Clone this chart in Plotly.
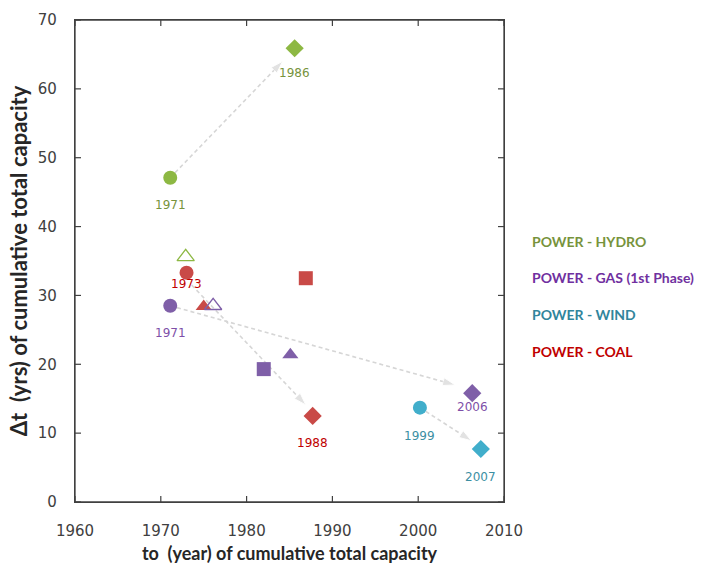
import plotly.graph_objects as go

# ---------------- data ----------------
hydro_x = [1971.1, 1985.6]
hydro_y = [47.1, 65.9]
hydro_sym = ["circle", "diamond"]
hydro_open_x = [1972.9]
hydro_open_y = [35.6]

gas_x = [1971.1, 1982.0, 1985.1, 2006.3]
gas_y = [28.5, 19.3, 21.4, 15.8]
gas_sym = ["circle", "square", "triangle-up", "diamond"]
gas_open_x = [1976.1]
gas_open_y = [28.5]

wind_x = [2000.2, 2007.3]
wind_y = [13.7, 7.7]
wind_sym = ["circle", "diamond"]

coal_x = [1973.0, 1975.0, 1986.9, 1987.7]
coal_y = [33.3, 28.4, 32.5, 12.5]
coal_sym = ["circle", "triangle-up", "square", "diamond"]

# year labels: (x, y, text, colour-key, shift)
labels = [
    (hydro_x[0], hydro_y[0], "1971", "hydro", -27),
    (hydro_x[1], hydro_y[1], "1986", "hydro", -25),
    (gas_x[0], gas_y[0], "1971", "gas", -27),
    (gas_x[3], gas_y[3], "2006", "gas", -14),
    (wind_x[0], wind_y[0], "1999", "wind", -28),
    (wind_x[1], wind_y[1], "2007", "wind", -28),
    (coal_x[0], coal_y[0], "1973", "coal", -11),
    (coal_x[3], coal_y[3], "1988", "coal", -27),
]

# arrows: (start x, start y, end x, end y)
arrows = [
    (1971.1, 47.1, 1984.2, 64.0),
    (1971.1, 28.5, 2004.3, 17.0),
    (1973.6, 31.5, 1986.9, 14.1),
    (2000.2, 13.7, 2006.2, 8.9),
]

legend_names = ["POWER - HYDRO", "POWER - GAS (1st Phase)", "POWER - WIND", "POWER - COAL"]

x_ticks = [1960, 1970, 1980, 1990, 2000, 2010]
y_ticks = [0, 10, 20, 30, 40, 50, 60, 70]

# ---------------- style ----------------
marker_col = {"hydro": "#8DB843", "gas": "#7F5FA8", "wind": "#41AECB", "coal": "#C94A47"}
text_col = {"hydro": "#77933C", "gas": "#7E4FA8", "wind": "#3C8FA3", "coal": "#C00000"}
legend_col = ["#77933C", "#7030A0", "#31859C", "#C00000"]
arrow_col = "#D6D6D6"
axis_line = "#404040"

fig = go.Figure()

for (x0, y0, x1, y1) in arrows:
    fig.add_trace(go.Scatter(
        x=[x0, x1], y=[y0, y1], mode="lines+markers",
        line=dict(color=arrow_col, width=1.6, dash="4px,3px"),
        marker=dict(symbol="arrow", size=[0, 13], angleref="previous", color=arrow_col),
        showlegend=False, hoverinfo="skip"))

def add_series(xs, ys, syms, key, name):
    fig.add_trace(go.Scatter(
        x=xs, y=ys, mode="markers", name=name,
        marker=dict(symbol=syms, size=14, color=marker_col[key], line=dict(width=0)),
        showlegend=False))

add_series(hydro_x, hydro_y, hydro_sym, "hydro", legend_names[0])
add_series(gas_x, gas_y, gas_sym, "gas", legend_names[1])
add_series(wind_x, wind_y, wind_sym, "wind", legend_names[2])
add_series(coal_x, coal_y, coal_sym, "coal", legend_names[3])

fig.add_trace(go.Scatter(
    x=hydro_open_x, y=hydro_open_y, mode="markers", showlegend=False,
    marker=dict(symbol="triangle-up-open", size=15, color=marker_col["hydro"], line=dict(width=1.3))))
fig.add_trace(go.Scatter(
    x=gas_open_x, y=gas_open_y, mode="markers", showlegend=False,
    marker=dict(symbol="triangle-up-open", size=15, color=marker_col["gas"], line=dict(width=1.3))))

for (x, y, t, key, sh) in labels:
    fig.add_annotation(x=x, y=y, text=t, showarrow=False, yshift=sh,
                       font=dict(family="DejaVu Sans", size=12, color=text_col[key]))

for i, name in enumerate(legend_names):
    fig.add_annotation(xref="paper", yref="paper", x=1.06, y=[0.541, 0.466, 0.390, 0.313][i],
                       xanchor="left", yanchor="middle", text="<b>%s</b>" % name, showarrow=False,
                       font=dict(family="Lato", size=14, color=legend_col[i]))

# plot frame
fig.add_shape(type="rect", xref="paper", yref="paper", x0=0, x1=1, y0=0, y1=1,
              line=dict(color=axis_line, width=1.3), layer="above")
# inside tick marks on all four sides, placed at the tick values
for v in x_ticks:
    for anchor, (a, b) in ((0, (0, 6)), (1, (0, -6))):
        fig.add_shape(type="line", xref="x", yref="paper", x0=v, x1=v,
                      ysizemode="pixel", yanchor=anchor, y0=a, y1=b,
                      line=dict(color=axis_line, width=1.2), layer="above")
for v in y_ticks:
    for anchor, (a, b) in ((0, (0, 6)), (1, (0, -6))):
        fig.add_shape(type="line", yref="y", xref="paper", y0=v, y1=v,
                      xsizemode="pixel", xanchor=anchor, x0=a, x1=b,
                      line=dict(color=axis_line, width=1.2), layer="above")

common = dict(showgrid=False, zeroline=False, automargin=False)
fig.update_layout(
    width=706, height=568,
    margin=dict(l=75, r=202, t=20, b=66),
    plot_bgcolor="white", paper_bgcolor="white",
    showlegend=False,
    xaxis=dict(range=[1960, 2010], tickvals=x_ticks, ticks="outside", ticklen=15,
               tickcolor="rgba(255,255,255,0)", showline=True, linecolor=axis_line,
               linewidth=1.3, mirror=True,
               tickfont=dict(family="DejaVu Sans", size=15, color="#404040"),
               title=dict(text="<b>to  (year) of cumulative total capacity</b>",
                          font=dict(family="Lato", size=18, color="#262626"), standoff=8),
               **common),
    yaxis=dict(range=[0, 70], tickvals=y_ticks, ticks="outside", ticklen=14,
               tickcolor="rgba(255,255,255,0)", showline=True, linecolor=axis_line,
               linewidth=1.3, mirror=True,
               tickfont=dict(family="DejaVu Sans", size=15, color="#404040"),
               title=dict(text="<b>Δt  (yrs) of cumulative total capacity</b>",
                          font=dict(family="Lato", size=22, color="#262626"), standoff=4),
               **common),
)

# remove the default page margin so the figure sits at the window's top-left corner
fig.write_html("out.html", config={"displayModeBar": False},
               post_script="document.body.style.margin='0';")
